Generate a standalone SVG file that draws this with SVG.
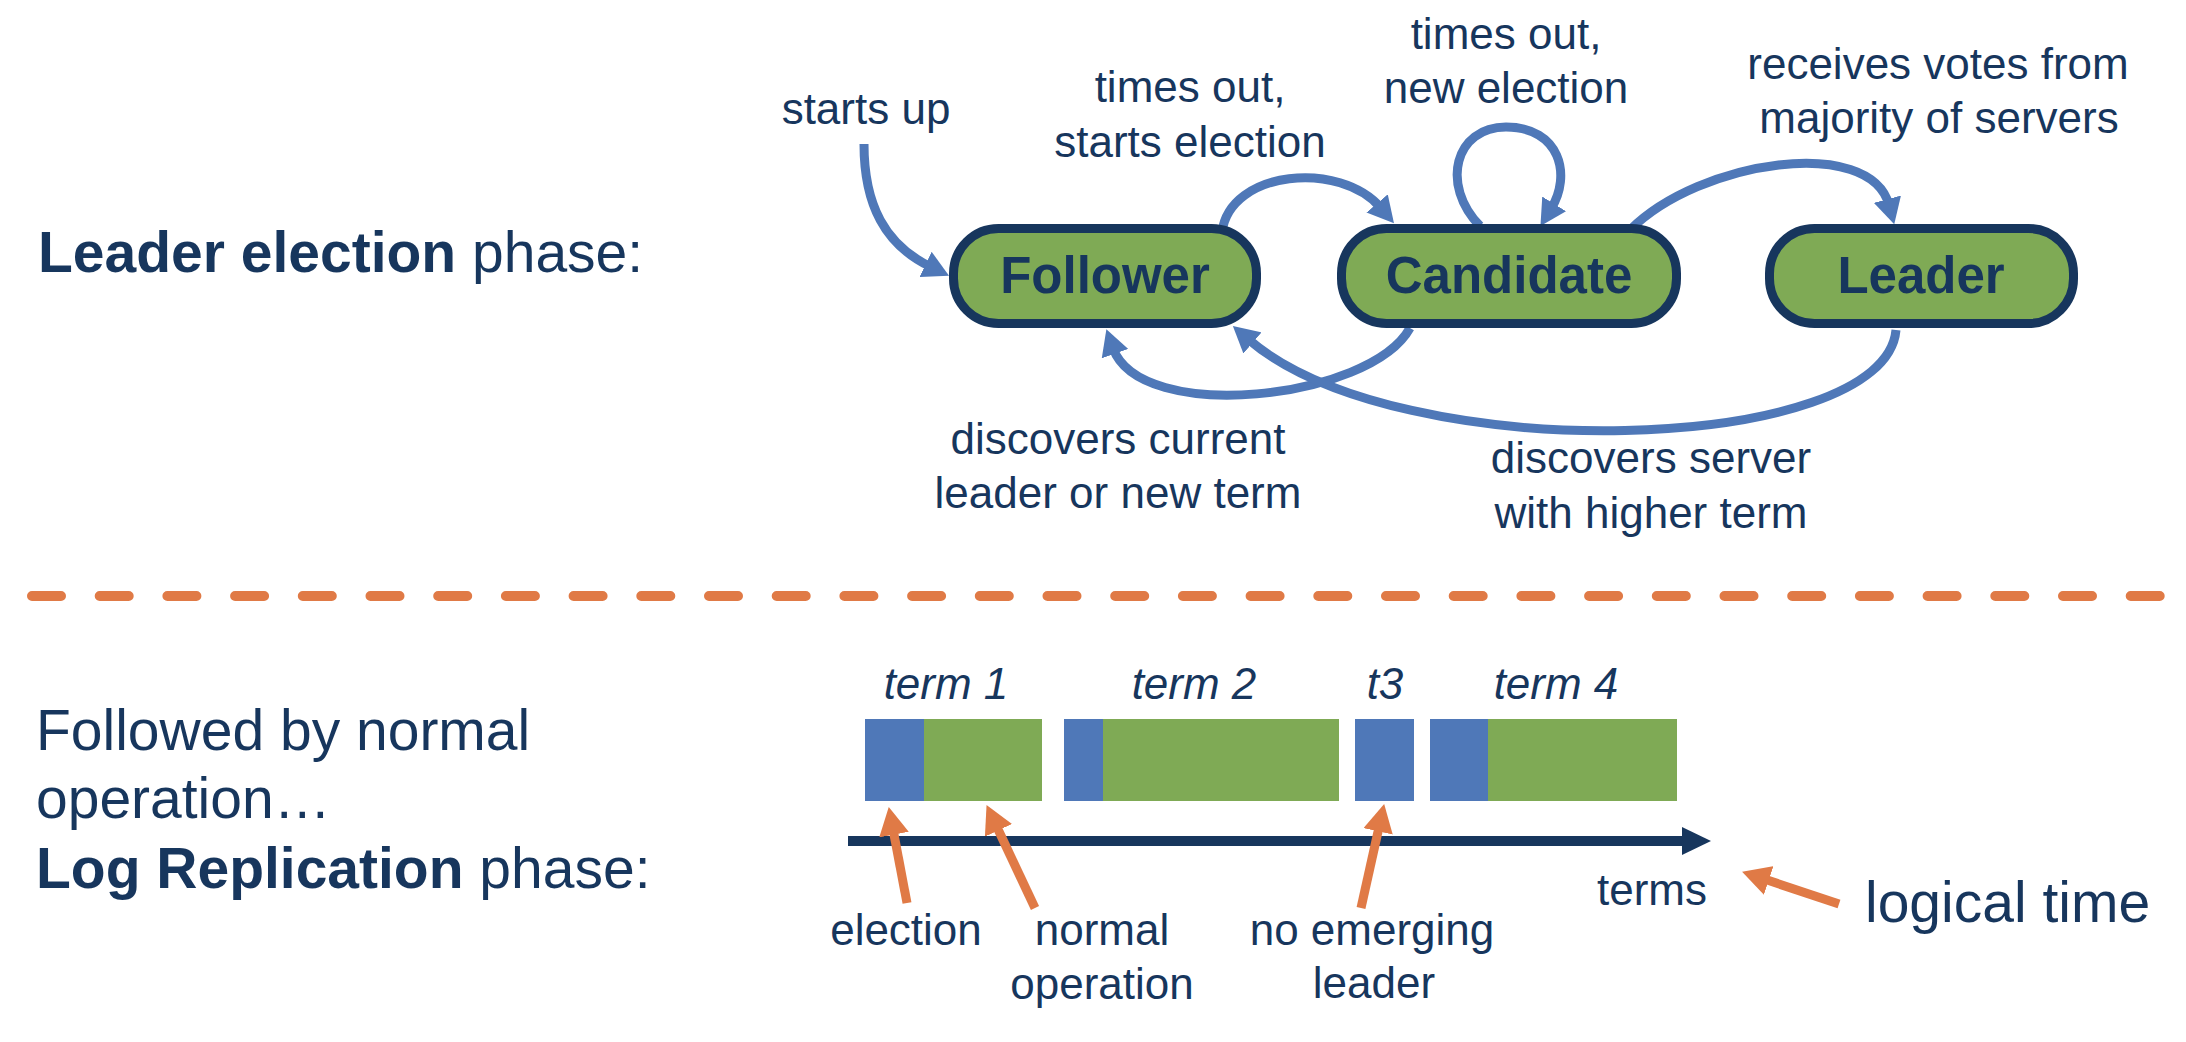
<svg xmlns="http://www.w3.org/2000/svg" width="2186" height="1042" viewBox="0 0 2186 1042">
<style>
text{font-family:"Liberation Sans",Arial,Helvetica,sans-serif;fill:#17365D}
.big{font-size:57px}
.lbl{font-size:44px;text-anchor:middle}
.node rect{fill:#7FAA55;stroke:#17365D;stroke-width:9}
.node text{font-size:51px;font-weight:bold;text-anchor:middle}
.blue{fill:none;stroke:#4F78B8;stroke-width:9;marker-end:url(#hb)}
.orange{fill:none;stroke:#E07A46;stroke-width:9;marker-end:url(#ho)}
.term{font-size:44px;font-style:italic;text-anchor:middle}
.el{fill:#4F78B8}
.op{fill:#7FAA55}
</style>
<defs>
<marker id="hb" markerUnits="userSpaceOnUse" markerWidth="26" markerHeight="28" viewBox="0 0 26 28" refX="6" refY="14" orient="auto">
<path d="M0,0 L26,14 L0,28 z" fill="#4F78B8"/>
</marker>
<marker id="ho" markerUnits="userSpaceOnUse" markerWidth="28" markerHeight="30" viewBox="0 0 28 30" refX="7" refY="15" orient="auto">
<path d="M0,0 L28,15 L0,30 z" fill="#E07A46"/>
</marker>
</defs>
<rect width="2186" height="1042" fill="#FFFFFF"/>

<text class="big" x="38" y="272"><tspan font-weight="bold">Leader election</tspan> phase:</text>

<g id="connectors">
<path class="blue" d="M864 144 C864 205 885 245 931 267"/>
<path class="blue" d="M1222 232 C1230 170 1340 160 1381 208"/>
<path class="blue" d="M1480 226 C1440 185 1455 127 1506 127 C1560 127 1572 175 1551 209"/>
<path class="blue" d="M1630 230 C1700 160 1870 135 1889 205"/>
<path class="blue" d="M1410 328 C1370 400 1140 425 1113 348"/>
<path class="blue" d="M1896 330 C1885 455 1400 470 1248 339"/>
</g>

<g id="node-follower" class="node">
<rect x="953.5" y="228.5" width="303" height="95" rx="45"/>
<text x="1105" y="293">Follower</text>
</g>
<g id="node-candidate" class="node">
<rect x="1341.5" y="228.5" width="335" height="95" rx="45"/>
<text x="1509" y="293">Candidate</text>
</g>
<g id="node-leader" class="node">
<rect x="1769.5" y="228.5" width="304" height="95" rx="45"/>
<text x="1921" y="293">Leader</text>
</g>

<g id="labels">
<text class="lbl" x="866" y="124">starts up</text>
<text class="lbl" x="1190" y="102">times out,</text>
<text class="lbl" x="1190" y="157">starts election</text>
<text class="lbl" x="1506" y="49">times out,</text>
<text class="lbl" x="1506" y="103">new election</text>
<text class="lbl" x="1938" y="79">receives votes from</text>
<text class="lbl" x="1939" y="133">majority of servers</text>
<text class="lbl" x="1118" y="454">discovers current</text>
<text class="lbl" x="1118" y="508">leader or new term</text>
<text class="lbl" x="1651" y="473">discovers server</text>
<text class="lbl" x="1651" y="528">with higher term</text>
</g>

<path id="divider" d="M32 596 H2160" fill="none" stroke="#E07A46" stroke-width="10" stroke-linecap="round" stroke-dasharray="29 38.7"/>

<text class="big" x="36" y="750">Followed by normal</text>
<text class="big" x="36" y="818">operation…</text>
<text class="big" x="36" y="888"><tspan font-weight="bold">Log Replication</tspan> phase:</text>

<g id="timeline">
<text class="term" x="946" y="699">term 1</text>
<text class="term" x="1194" y="699">term 2</text>
<text class="term" x="1385" y="699">t3</text>
<text class="term" x="1556" y="699">term 4</text>
<rect class="el" x="865" y="719" width="59" height="82"/>
<rect class="op" x="924" y="719" width="118" height="82"/>
<rect class="el" x="1064" y="719" width="39" height="82"/>
<rect class="op" x="1103" y="719" width="236" height="82"/>
<rect class="el" x="1355" y="719" width="59" height="82"/>
<rect class="el" x="1430" y="719" width="58" height="82"/>
<rect class="op" x="1488" y="719" width="189" height="82"/>
<path d="M848 841 H1688" stroke="#17365D" stroke-width="10" fill="none"/>
<path d="M1682 827 L1711 841 L1682 855 z" fill="#17365D"/>
</g>

<g id="annotations">
<path class="orange" d="M907 903 L892.7 827.7"/>
<path class="orange" d="M1035 908 L995.5 824"/>
<path class="orange" d="M1361 908 L1379.6 824.5"/>
<path class="orange" d="M1839 904 L1762 878.3"/>
<text class="lbl" x="906" y="945">election</text>
<text class="lbl" x="1102" y="945">normal</text>
<text class="lbl" x="1102" y="999">operation</text>
<text class="lbl" x="1372" y="945">no emerging</text>
<text class="lbl" x="1374" y="998">leader</text>
<text class="lbl" x="1652" y="905">terms</text>
<text x="1865" y="922" font-size="57">logical time</text>
</g>
</svg>
